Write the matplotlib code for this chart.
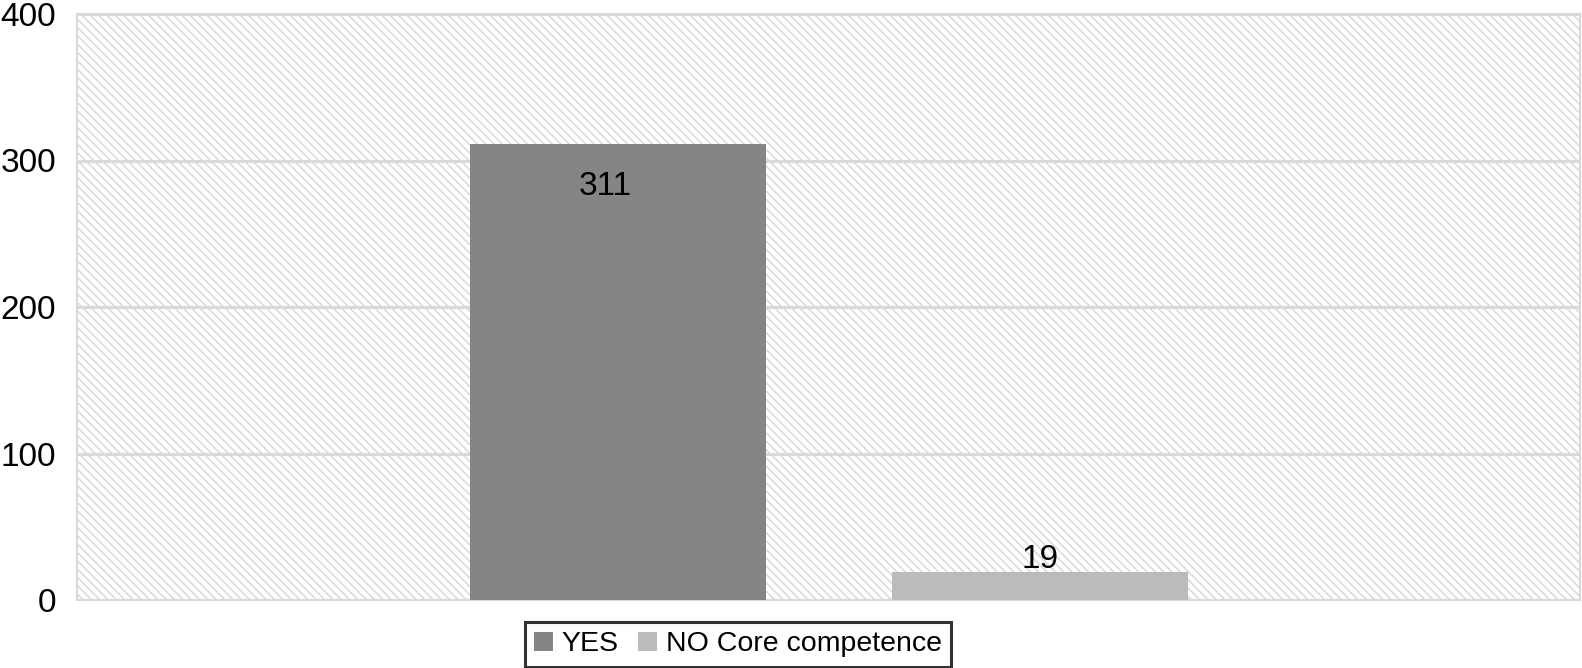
import matplotlib
matplotlib.use("Agg")
import matplotlib.pyplot as plt
from matplotlib.patches import Rectangle, Patch

# data
series = ["YES", "NO Core competence"]
values = [311, 19]
colors = ["#878584", "#bbbbbb"]
yticks = [0, 100, 200, 300, 400]

plt.rcParams["font.family"] = ["Liberation Sans", "DejaVu Sans"]
plt.rcParams["hatch.linewidth"] = 1.0

fig = plt.figure(figsize=(15.82, 6.68), dpi=100)
ax = fig.add_axes([77 / 1582, 68 / 668, 1503 / 1582, 586 / 668])

# striped background of the plot area
bg = Rectangle((0, 0), 1, 1, transform=ax.transAxes, facecolor="white",
               edgecolor="#d6d6d6", linewidth=0, hatch="\\\\\\\\", zorder=0)
ax.add_patch(bg)

x = [0, 1]
bars = ax.bar(x, values, width=0.7, color=colors, zorder=3)

ax.set_xlim(-1.282, 2.28)
ax.set_ylim(0, 400)
ax.set_yticks(yticks)
ax.set_xticks([])
ax.tick_params(axis="y", length=0, pad=15, labelsize=24)
ax.grid(axis="y", color="#d9d9d9", linewidth=2.2, zorder=1)
ax.set_axisbelow(True)
for s in ax.spines.values():
    s.set_color("#d9d9d9")
    s.set_linewidth(1.5)

# value labels
ax.annotate(str(values[0]), (x[0], values[0]), xytext=(-9, -30),
            textcoords="offset points", ha="center", va="center", fontsize=24)
ax.annotate(str(values[1]), (x[1], values[1]), xytext=(0, 9),
            textcoords="offset points", ha="center", va="center", fontsize=24)

handles = [Patch(facecolor=c, edgecolor="none") for c in colors]
leg = fig.legend(handles, series, loc="lower center", bbox_to_anchor=(738 / 1582, 0.0),
                 ncol=2, fontsize=20.5, frameon=True, fancybox=False,
                 handlelength=0.65, handleheight=0.65, handletextpad=0.3,
                 columnspacing=0.7, borderpad=0.32, borderaxespad=0.05)
leg.get_frame().set_edgecolor("black")
leg.get_frame().set_linewidth(2.2)

fig.savefig("out.png", dpi=100)
